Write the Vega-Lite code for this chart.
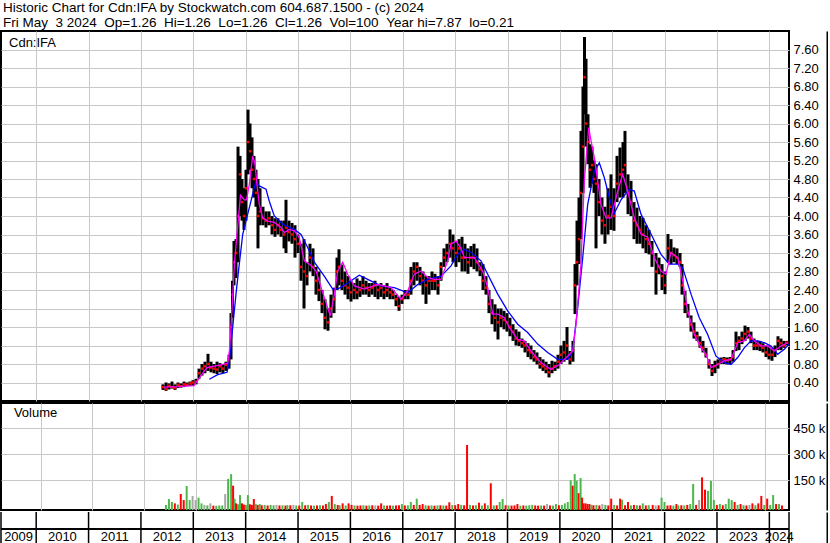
{
"$schema": "https://vega.github.io/schema/vega-lite/v6.json",
"padding": 0,
"background": "#ffffff",
"title": {"text": ["Historic Chart for Cdn:IFA by Stockwatch.com 604.687.1500 - (c) 2024", "Fri May \u00a03 2024 \u00a0Op=1.26 \u00a0Hi=1.26 \u00a0Lo=1.26 \u00a0Cl=1.26 \u00a0Vol=100 \u00a0Year hi=7.87 \u00a0lo=0.21"], "anchor": "start", "fontSize": 13.5, "font": "Arial", "fontWeight": "normal", "color": "#000000", "lineHeight": 15, "offset": 1, "dx": 3},
"spacing": 0,
"resolve": {"scale": {"color": "independent"}},
"config": {"view": {"stroke": "#000000", "strokeWidth": 2}, "font": "Arial", "axis": {"labelFont": "Arial", "labelFontSize": 13, "labelColor": "#000000", "gridColor": "#c8c8c8", "gridWidth": 1, "gridOpacity": 1, "labelOverlap": false}},
"datasets": {
"p": [
{"t":2012.421,"h":0.36,"l":0.24,"c":0.30,"v":8,"d":"g"},
{"t":2012.479,"h":0.40,"l":0.22,"c":0.26,"v":42,"d":"g"},
{"t":2012.536,"h":0.38,"l":0.25,"c":0.33,"v":25,"d":"g"},
{"t":2012.593,"h":0.42,"l":0.27,"c":0.30,"v":17,"d":"r"},
{"t":2012.651,"h":0.36,"l":0.24,"c":0.28,"v":10,"d":"g"},
{"t":2012.708,"h":0.40,"l":0.28,"c":0.35,"v":71,"d":"r"},
{"t":2012.765,"h":0.38,"l":0.29,"c":0.32,"v":36,"d":"r"},
{"t":2012.822,"h":0.42,"l":0.30,"c":0.36,"v":117,"d":"g"},
{"t":2012.880,"h":0.40,"l":0.32,"c":0.35,"v":36,"d":"g"},
{"t":2012.937,"h":0.42,"l":0.33,"c":0.38,"v":60,"d":"n"},
{"t":2012.994,"h":0.45,"l":0.33,"c":0.40,"v":36,"d":"n"},
{"t":2013.052,"h":0.48,"l":0.36,"c":0.42,"v":50,"d":"g"},
{"t":2013.109,"h":0.70,"l":0.48,"c":0.60,"v":17,"d":"g"},
{"t":2013.166,"h":0.80,"l":0.55,"c":0.70,"v":8,"d":"n"},
{"t":2013.223,"h":0.85,"l":0.60,"c":0.75,"v":5,"d":"g"},
{"t":2013.281,"h":1.02,"l":0.65,"c":0.80,"v":17,"d":"n"},
{"t":2013.338,"h":0.85,"l":0.62,"c":0.72,"v":4,"d":"r"},
{"t":2013.395,"h":0.80,"l":0.60,"c":0.70,"v":3,"d":"g"},
{"t":2013.453,"h":0.85,"l":0.58,"c":0.68,"v":5,"d":"g"},
{"t":2013.510,"h":0.82,"l":0.62,"c":0.75,"v":5,"d":"g"},
{"t":2013.567,"h":0.80,"l":0.60,"c":0.70,"v":71,"d":"n"},
{"t":2013.624,"h":0.85,"l":0.65,"c":0.78,"v":158,"d":"g"},
{"t":2013.682,"h":1.00,"l":0.70,"c":0.90,"v":186,"d":"g"},
{"t":2013.720,"h":1.90,"l":0.90,"c":1.60,"v":119,"d":"r"},
{"t":2013.749,"h":2.60,"l":1.80,"c":2.30,"v":44,"d":"g"},
{"t":2013.777,"h":3.46,"l":2.50,"c":3.00,"v":17,"d":"r"},
{"t":2013.815,"h":3.50,"l":2.66,"c":3.20,"v":12,"d":"g"},
{"t":2013.854,"h":5.50,"l":3.00,"c":4.00,"v":65,"d":"g"},
{"t":2013.892,"h":5.30,"l":4.00,"c":4.90,"v":17,"d":"r"},
{"t":2013.930,"h":4.80,"l":3.90,"c":4.30,"v":10,"d":"r"},
{"t":2013.968,"h":4.60,"l":3.70,"c":4.00,"v":8,"d":"g"},
{"t":2014.006,"h":5.00,"l":3.90,"c":4.60,"v":65,"d":"g"},
{"t":2014.045,"h":6.30,"l":4.90,"c":5.60,"v":12,"d":"r"},
{"t":2014.083,"h":6.00,"l":5.00,"c":5.40,"v":8,"d":"r"},
{"t":2014.121,"h":5.70,"l":4.60,"c":5.00,"v":42,"d":"r"},
{"t":2014.159,"h":5.30,"l":4.40,"c":4.80,"v":13,"d":"g"},
{"t":2014.197,"h":5.00,"l":4.20,"c":4.50,"v":8,"d":"r"},
{"t":2014.235,"h":4.80,"l":3.30,"c":4.00,"v":13,"d":"g"},
{"t":2014.274,"h":4.60,"l":3.80,"c":4.10,"v":6,"d":"r"},
{"t":2014.331,"h":4.20,"l":3.80,"c":3.95,"v":8,"d":"g"},
{"t":2014.388,"h":4.10,"l":3.75,"c":3.90,"v":5,"d":"r"},
{"t":2014.446,"h":4.10,"l":3.80,"c":3.95,"v":8,"d":"g"},
{"t":2014.503,"h":4.00,"l":3.60,"c":3.80,"v":6,"d":"g"},
{"t":2014.560,"h":3.95,"l":3.55,"c":3.70,"v":8,"d":"n"},
{"t":2014.617,"h":3.95,"l":3.60,"c":3.80,"v":5,"d":"r"},
{"t":2014.675,"h":3.90,"l":3.55,"c":3.70,"v":6,"d":"g"},
{"t":2014.732,"h":3.90,"l":3.30,"c":3.60,"v":4,"d":"r"},
{"t":2014.770,"h":4.35,"l":3.20,"c":3.75,"v":7,"d":"g"},
{"t":2014.827,"h":3.90,"l":3.45,"c":3.65,"v":6,"d":"r"},
{"t":2014.885,"h":3.85,"l":3.40,"c":3.60,"v":8,"d":"n"},
{"t":2014.942,"h":3.80,"l":3.10,"c":3.50,"v":5,"d":"g"},
{"t":2014.999,"h":3.60,"l":3.20,"c":3.40,"v":4,"d":"r"},
{"t":2015.057,"h":3.40,"l":2.60,"c":2.90,"v":25,"d":"g"},
{"t":2015.114,"h":3.50,"l":2.00,"c":2.80,"v":6,"d":"r"},
{"t":2015.171,"h":3.00,"l":2.50,"c":2.70,"v":8,"d":"g"},
{"t":2015.228,"h":3.40,"l":2.80,"c":3.10,"v":5,"d":"r"},
{"t":2015.286,"h":3.30,"l":2.70,"c":2.90,"v":4,"d":"g"},
{"t":2015.343,"h":2.90,"l":2.30,"c":2.60,"v":5,"d":"r"},
{"t":2015.400,"h":2.80,"l":2.16,"c":2.40,"v":6,"d":"g"},
{"t":2015.458,"h":2.40,"l":1.90,"c":2.10,"v":5,"d":"r"},
{"t":2015.515,"h":2.20,"l":1.55,"c":1.80,"v":13,"d":"r"},
{"t":2015.572,"h":2.00,"l":1.52,"c":1.70,"v":25,"d":"g"},
{"t":2015.629,"h":2.30,"l":1.80,"c":2.00,"v":60,"d":"r"},
{"t":2015.687,"h":2.45,"l":1.90,"c":2.20,"v":13,"d":"g"},
{"t":2015.744,"h":3.10,"l":2.40,"c":2.80,"v":8,"d":"r"},
{"t":2015.782,"h":3.28,"l":2.50,"c":2.90,"v":6,"d":"g"},
{"t":2015.839,"h":2.95,"l":2.40,"c":2.60,"v":17,"d":"r"},
{"t":2015.897,"h":2.80,"l":2.30,"c":2.50,"v":5,"d":"g"},
{"t":2015.954,"h":2.70,"l":2.20,"c":2.45,"v":17,"d":"r"},
{"t":2016.011,"h":2.60,"l":2.15,"c":2.35,"v":8,"d":"r"},
{"t":2016.069,"h":2.55,"l":2.20,"c":2.40,"v":5,"d":"g"},
{"t":2016.126,"h":2.65,"l":2.20,"c":2.35,"v":4,"d":"r"},
{"t":2016.183,"h":2.60,"l":2.25,"c":2.40,"v":5,"d":"r"},
{"t":2016.240,"h":2.70,"l":2.30,"c":2.50,"v":6,"d":"g"},
{"t":2016.298,"h":2.60,"l":2.30,"c":2.45,"v":4,"d":"r"},
{"t":2016.355,"h":2.55,"l":2.25,"c":2.40,"v":5,"d":"g"},
{"t":2016.412,"h":2.55,"l":2.30,"c":2.45,"v":6,"d":"r"},
{"t":2016.470,"h":2.60,"l":2.25,"c":2.50,"v":5,"d":"n"},
{"t":2016.527,"h":2.50,"l":2.20,"c":2.40,"v":4,"d":"r"},
{"t":2016.584,"h":2.55,"l":2.25,"c":2.45,"v":17,"d":"r"},
{"t":2016.641,"h":2.50,"l":2.20,"c":2.35,"v":5,"d":"g"},
{"t":2016.699,"h":2.55,"l":2.25,"c":2.40,"v":4,"d":"r"},
{"t":2016.756,"h":2.45,"l":2.20,"c":2.35,"v":5,"d":"r"},
{"t":2016.813,"h":2.40,"l":2.20,"c":2.30,"v":4,"d":"g"},
{"t":2016.871,"h":2.30,"l":2.05,"c":2.20,"v":5,"d":"r"},
{"t":2016.928,"h":2.25,"l":1.95,"c":2.05,"v":6,"d":"r"},
{"t":2016.985,"h":2.30,"l":2.10,"c":2.20,"v":13,"d":"g"},
{"t":2017.042,"h":2.40,"l":2.20,"c":2.30,"v":5,"d":"r"},
{"t":2017.100,"h":2.40,"l":2.20,"c":2.30,"v":6,"d":"g"},
{"t":2017.157,"h":2.90,"l":2.30,"c":2.60,"v":25,"d":"g"},
{"t":2017.214,"h":3.00,"l":2.50,"c":2.80,"v":8,"d":"r"},
{"t":2017.272,"h":3.00,"l":2.60,"c":2.90,"v":44,"d":"g"},
{"t":2017.329,"h":2.90,"l":2.50,"c":2.70,"v":8,"d":"r"},
{"t":2017.386,"h":2.80,"l":2.30,"c":2.60,"v":13,"d":"r"},
{"t":2017.443,"h":2.70,"l":2.10,"c":2.50,"v":6,"d":"g"},
{"t":2017.501,"h":2.70,"l":2.30,"c":2.60,"v":4,"d":"r"},
{"t":2017.558,"h":2.80,"l":2.40,"c":2.60,"v":5,"d":"g"},
{"t":2017.615,"h":2.75,"l":2.40,"c":2.60,"v":4,"d":"r"},
{"t":2017.673,"h":2.70,"l":2.30,"c":2.50,"v":5,"d":"g"},
{"t":2017.730,"h":3.00,"l":2.60,"c":2.90,"v":6,"d":"r"},
{"t":2017.787,"h":3.30,"l":2.90,"c":3.10,"v":5,"d":"g"},
{"t":2017.844,"h":3.40,"l":3.00,"c":3.20,"v":4,"d":"r"},
{"t":2017.902,"h":3.71,"l":3.10,"c":3.40,"v":23,"d":"r"},
{"t":2017.959,"h":3.60,"l":3.00,"c":3.30,"v":8,"d":"g"},
{"t":2018.016,"h":3.45,"l":2.90,"c":3.20,"v":6,"d":"r"},
{"t":2018.074,"h":3.50,"l":3.00,"c":3.30,"v":13,"d":"r"},
{"t":2018.131,"h":3.55,"l":2.80,"c":3.10,"v":8,"d":"g"},
{"t":2018.188,"h":3.40,"l":2.80,"c":3.10,"v":6,"d":"r"},
{"t":2018.245,"h":3.30,"l":2.75,"c":3.00,"v":354,"d":"r"},
{"t":2018.303,"h":3.35,"l":2.90,"c":3.10,"v":8,"d":"g"},
{"t":2018.360,"h":3.40,"l":2.85,"c":3.10,"v":5,"d":"r"},
{"t":2018.417,"h":3.30,"l":2.80,"c":3.00,"v":6,"d":"g"},
{"t":2018.475,"h":3.00,"l":2.70,"c":2.85,"v":21,"d":"r"},
{"t":2018.532,"h":2.96,"l":2.40,"c":2.60,"v":5,"d":"g"},
{"t":2018.589,"h":2.70,"l":2.30,"c":2.45,"v":17,"d":"r"},
{"t":2018.646,"h":2.40,"l":1.90,"c":2.10,"v":6,"d":"g"},
{"t":2018.704,"h":2.20,"l":1.66,"c":1.90,"v":133,"d":"r"},
{"t":2018.761,"h":2.09,"l":1.50,"c":1.80,"v":5,"d":"g"},
{"t":2018.818,"h":2.00,"l":1.33,"c":1.70,"v":6,"d":"r"},
{"t":2018.876,"h":2.00,"l":1.60,"c":1.80,"v":25,"d":"g"},
{"t":2018.933,"h":1.95,"l":1.55,"c":1.75,"v":42,"d":"g"},
{"t":2018.990,"h":1.90,"l":1.50,"c":1.70,"v":6,"d":"r"},
{"t":2019.047,"h":1.80,"l":1.40,"c":1.60,"v":5,"d":"g"},
{"t":2019.105,"h":1.66,"l":1.30,"c":1.50,"v":4,"d":"r"},
{"t":2019.162,"h":1.55,"l":1.20,"c":1.35,"v":5,"d":"r"},
{"t":2019.219,"h":1.50,"l":1.19,"c":1.30,"v":13,"d":"r"},
{"t":2019.277,"h":1.35,"l":1.15,"c":1.25,"v":4,"d":"g"},
{"t":2019.334,"h":1.30,"l":1.05,"c":1.20,"v":5,"d":"r"},
{"t":2019.391,"h":1.25,"l":0.95,"c":1.10,"v":4,"d":"g"},
{"t":2019.448,"h":1.20,"l":0.90,"c":1.05,"v":6,"d":"g"},
{"t":2019.506,"h":1.10,"l":0.85,"c":0.95,"v":8,"d":"g"},
{"t":2019.563,"h":1.05,"l":0.79,"c":0.90,"v":5,"d":"r"},
{"t":2019.620,"h":0.95,"l":0.70,"c":0.80,"v":4,"d":"r"},
{"t":2019.678,"h":0.90,"l":0.65,"c":0.75,"v":5,"d":"g"},
{"t":2019.735,"h":0.85,"l":0.60,"c":0.70,"v":4,"d":"r"},
{"t":2019.792,"h":0.80,"l":0.51,"c":0.62,"v":13,"d":"n"},
{"t":2019.849,"h":0.87,"l":0.60,"c":0.70,"v":5,"d":"r"},
{"t":2019.907,"h":0.85,"l":0.65,"c":0.75,"v":4,"d":"g"},
{"t":2019.964,"h":1.00,"l":0.70,"c":0.85,"v":13,"d":"g"},
{"t":2020.021,"h":1.20,"l":0.80,"c":1.00,"v":6,"d":"r"},
{"t":2020.079,"h":1.30,"l":0.85,"c":1.05,"v":8,"d":"g"},
{"t":2020.136,"h":1.60,"l":0.90,"c":1.20,"v":17,"d":"g"},
{"t":2020.193,"h":1.08,"l":0.79,"c":0.90,"v":25,"d":"g"},
{"t":2020.250,"h":1.30,"l":0.85,"c":1.10,"v":150,"d":"g"},
{"t":2020.289,"h":2.96,"l":1.88,"c":2.50,"v":119,"d":"r"},
{"t":2020.327,"h":3.90,"l":2.50,"c":3.00,"v":186,"d":"g"},
{"t":2020.365,"h":4.40,"l":2.96,"c":3.50,"v":148,"d":"g"},
{"t":2020.403,"h":5.84,"l":3.50,"c":4.50,"v":76,"d":"r"},
{"t":2020.441,"h":6.80,"l":4.50,"c":5.50,"v":163,"d":"g"},
{"t":2020.470,"h":7.87,"l":6.20,"c":7.00,"v":50,"d":"r"},
{"t":2020.499,"h":7.40,"l":5.50,"c":6.00,"v":17,"d":"r"},
{"t":2020.537,"h":6.20,"l":5.12,"c":5.60,"v":17,"d":"r"},
{"t":2020.575,"h":5.55,"l":4.61,"c":5.00,"v":13,"d":"r"},
{"t":2020.613,"h":5.50,"l":4.70,"c":5.10,"v":13,"d":"r"},
{"t":2020.651,"h":5.20,"l":4.50,"c":4.80,"v":8,"d":"g"},
{"t":2020.690,"h":5.12,"l":3.30,"c":4.70,"v":6,"d":"r"},
{"t":2020.747,"h":4.80,"l":4.00,"c":4.30,"v":8,"d":"g"},
{"t":2020.804,"h":4.40,"l":3.60,"c":3.90,"v":5,"d":"r"},
{"t":2020.861,"h":4.20,"l":3.40,"c":3.80,"v":13,"d":"n"},
{"t":2020.919,"h":4.60,"l":3.60,"c":4.00,"v":8,"d":"g"},
{"t":2020.976,"h":4.90,"l":3.70,"c":4.20,"v":5,"d":"r"},
{"t":2021.033,"h":4.60,"l":3.68,"c":4.00,"v":44,"d":"r"},
{"t":2021.091,"h":5.30,"l":4.30,"c":4.70,"v":8,"d":"g"},
{"t":2021.148,"h":5.48,"l":4.40,"c":4.90,"v":5,"d":"r"},
{"t":2021.205,"h":5.60,"l":4.40,"c":5.00,"v":44,"d":"r"},
{"t":2021.243,"h":5.84,"l":4.50,"c":5.10,"v":38,"d":"g"},
{"t":2021.301,"h":4.90,"l":4.04,"c":4.50,"v":6,"d":"r"},
{"t":2021.358,"h":4.76,"l":4.00,"c":4.30,"v":25,"d":"r"},
{"t":2021.415,"h":4.30,"l":3.50,"c":3.90,"v":5,"d":"g"},
{"t":2021.472,"h":4.18,"l":3.40,"c":3.80,"v":8,"d":"r"},
{"t":2021.530,"h":4.00,"l":3.40,"c":3.70,"v":6,"d":"g"},
{"t":2021.587,"h":3.96,"l":3.30,"c":3.60,"v":5,"d":"r"},
{"t":2021.644,"h":3.80,"l":3.20,"c":3.50,"v":17,"d":"g"},
{"t":2021.702,"h":3.70,"l":3.17,"c":3.40,"v":5,"d":"r"},
{"t":2021.759,"h":3.46,"l":2.90,"c":3.20,"v":6,"d":"g"},
{"t":2021.835,"h":3.20,"l":2.30,"c":2.80,"v":8,"d":"r"},
{"t":2021.893,"h":3.10,"l":2.74,"c":2.90,"v":5,"d":"n"},
{"t":2021.950,"h":2.96,"l":2.40,"c":2.70,"v":6,"d":"r"},
{"t":2022.007,"h":2.80,"l":2.31,"c":2.50,"v":50,"d":"g"},
{"t":2022.064,"h":3.61,"l":3.00,"c":3.30,"v":25,"d":"g"},
{"t":2022.122,"h":3.50,"l":2.96,"c":3.20,"v":5,"d":"r"},
{"t":2022.179,"h":3.32,"l":3.00,"c":3.15,"v":6,"d":"r"},
{"t":2022.236,"h":3.30,"l":2.96,"c":3.10,"v":4,"d":"g"},
{"t":2022.294,"h":3.20,"l":2.90,"c":3.00,"v":13,"d":"r"},
{"t":2022.332,"h":2.96,"l":2.30,"c":2.50,"v":5,"d":"g"},
{"t":2022.389,"h":2.38,"l":1.90,"c":2.10,"v":6,"d":"r"},
{"t":2022.446,"h":2.10,"l":1.80,"c":1.90,"v":5,"d":"g"},
{"t":2022.504,"h":1.85,"l":1.50,"c":1.65,"v":8,"d":"r"},
{"t":2022.561,"h":1.70,"l":1.35,"c":1.50,"v":13,"d":"g"},
{"t":2022.618,"h":1.50,"l":1.30,"c":1.40,"v":129,"d":"g"},
{"t":2022.675,"h":1.40,"l":1.15,"c":1.25,"v":8,"d":"r"},
{"t":2022.733,"h":1.30,"l":1.05,"c":1.15,"v":36,"d":"n"},
{"t":2022.790,"h":1.15,"l":0.94,"c":1.00,"v":167,"d":"r"},
{"t":2022.847,"h":0.90,"l":0.70,"c":0.80,"v":96,"d":"r"},
{"t":2022.905,"h":0.80,"l":0.54,"c":0.65,"v":89,"d":"g"},
{"t":2022.962,"h":0.87,"l":0.60,"c":0.75,"v":146,"d":"g"},
{"t":2023.019,"h":0.90,"l":0.70,"c":0.80,"v":36,"d":"g"},
{"t":2023.076,"h":0.94,"l":0.80,"c":0.88,"v":8,"d":"r"},
{"t":2023.134,"h":0.95,"l":0.80,"c":0.90,"v":13,"d":"g"},
{"t":2023.191,"h":0.94,"l":0.79,"c":0.88,"v":6,"d":"r"},
{"t":2023.248,"h":0.95,"l":0.80,"c":0.90,"v":13,"d":"g"},
{"t":2023.306,"h":1.10,"l":0.85,"c":0.95,"v":44,"d":"g"},
{"t":2023.363,"h":1.50,"l":1.08,"c":1.25,"v":36,"d":"g"},
{"t":2023.420,"h":1.40,"l":1.10,"c":1.30,"v":25,"d":"r"},
{"t":2023.477,"h":1.50,"l":1.23,"c":1.35,"v":8,"d":"g"},
{"t":2023.535,"h":1.63,"l":1.30,"c":1.45,"v":13,"d":"r"},
{"t":2023.592,"h":1.60,"l":1.35,"c":1.50,"v":6,"d":"g"},
{"t":2023.649,"h":1.50,"l":1.25,"c":1.35,"v":5,"d":"r"},
{"t":2023.707,"h":1.35,"l":1.10,"c":1.20,"v":8,"d":"n"},
{"t":2023.764,"h":1.30,"l":1.10,"c":1.20,"v":17,"d":"r"},
{"t":2023.821,"h":1.30,"l":1.08,"c":1.20,"v":6,"d":"g"},
{"t":2023.878,"h":1.25,"l":1.05,"c":1.15,"v":17,"d":"r"},
{"t":2023.936,"h":1.20,"l":0.95,"c":1.05,"v":60,"d":"r"},
{"t":2023.993,"h":1.20,"l":0.90,"c":1.00,"v":8,"d":"g"},
{"t":2024.050,"h":1.15,"l":0.87,"c":1.00,"v":44,"d":"r"},
{"t":2024.108,"h":1.20,"l":0.95,"c":1.10,"v":8,"d":"g"},
{"t":2024.165,"h":1.40,"l":1.10,"c":1.30,"v":65,"d":"g"},
{"t":2024.222,"h":1.35,"l":1.10,"c":1.25,"v":13,"d":"r"},
{"t":2024.279,"h":1.30,"l":1.15,"c":1.20,"v":13,"d":"g"},
{"t":2024.337,"h":1.30,"l":1.20,"c":1.26,"v":5,"d":"r"}
],
"m": [
{"t":2013.306,"ma":0.47,"s":"b"},{"t":2013.466,"ma":0.57,"s":"b"},{"t":2013.644,"ma":0.62,"s":"b"},{"t":2013.687,"ma":0.85,"s":"b"},{"t":2013.752,"ma":1.59,"s":"b"},{"t":2013.815,"ma":2.31,"s":"b"},{"t":2013.878,"ma":2.96,"s":"b"},{"t":2013.943,"ma":3.6,"s":"b"},{"t":2014.039,"ma":4.04,"s":"b"},{"t":2014.134,"ma":4.47,"s":"b"},{"t":2014.197,"ma":4.76,"s":"b"},{"t":2014.260,"ma":4.65,"s":"b"},{"t":2014.388,"ma":4.58,"s":"b"},{"t":2014.451,"ma":4.32,"s":"b"},{"t":2014.547,"ma":4.0,"s":"b"},{"t":2014.707,"ma":3.82,"s":"b"},{"t":2014.929,"ma":3.71,"s":"b"},{"t":2015.057,"ma":3.6,"s":"b"},{"t":2015.184,"ma":3.32,"s":"b"},{"t":2015.311,"ma":3.0,"s":"b"},{"t":2015.501,"ma":2.7,"s":"b"},{"t":2015.662,"ma":2.42,"s":"b"},{"t":2015.757,"ma":2.42,"s":"b"},{"t":2015.948,"ma":2.55,"s":"b"},{"t":2016.170,"ma":2.72,"s":"b"},{"t":2016.330,"ma":2.63,"s":"b"},{"t":2016.584,"ma":2.49,"s":"b"},{"t":2016.838,"ma":2.45,"s":"b"},{"t":2017.094,"ma":2.34,"s":"b"},{"t":2017.285,"ma":2.52,"s":"b"},{"t":2017.476,"ma":2.63,"s":"b"},{"t":2017.730,"ma":2.70,"s":"b"},{"t":2017.921,"ma":2.92,"s":"b"},{"t":2018.049,"ma":3.17,"s":"b"},{"t":2018.175,"ma":3.28,"s":"b"},{"t":2018.303,"ma":3.21,"s":"b"},{"t":2018.494,"ma":3.03,"s":"b"},{"t":2018.622,"ma":2.74,"s":"b"},{"t":2018.813,"ma":2.31,"s":"b"},{"t":2019.003,"ma":1.95,"s":"b"},{"t":2019.194,"ma":1.66,"s":"b"},{"t":2019.385,"ma":1.48,"s":"b"},{"t":2019.576,"ma":1.23,"s":"b"},{"t":2019.767,"ma":1.05,"s":"b"},{"t":2019.958,"ma":0.9,"s":"b"},{"t":2020.149,"ma":0.9,"s":"b"},{"t":2020.245,"ma":1.08,"s":"b"},{"t":2020.340,"ma":2.02,"s":"b"},{"t":2020.436,"ma":3.1,"s":"b"},{"t":2020.531,"ma":4.25,"s":"b"},{"t":2020.657,"ma":4.97,"s":"b"},{"t":2020.753,"ma":5.15,"s":"b"},{"t":2020.848,"ma":4.83,"s":"b"},{"t":2020.944,"ma":4.4,"s":"b"},{"t":2021.039,"ma":4.06,"s":"b"},{"t":2021.167,"ma":4.35,"s":"b"},{"t":2021.325,"ma":4.58,"s":"b"},{"t":2021.421,"ma":4.54,"s":"b"},{"t":2021.549,"ma":4.04,"s":"b"},{"t":2021.740,"ma":3.61,"s":"b"},{"t":2021.931,"ma":3.17,"s":"b"},{"t":2022.089,"ma":2.96,"s":"b"},{"t":2022.250,"ma":2.96,"s":"b"},{"t":2022.345,"ma":2.88,"s":"b"},{"t":2022.504,"ma":2.31,"s":"b"},{"t":2022.662,"ma":1.8,"s":"b"},{"t":2022.822,"ma":1.44,"s":"b"},{"t":2022.981,"ma":0.97,"s":"b"},{"t":2023.139,"ma":0.83,"s":"b"},{"t":2023.267,"ma":0.79,"s":"b"},{"t":2023.395,"ma":0.94,"s":"b"},{"t":2023.521,"ma":1.15,"s":"b"},{"t":2023.649,"ma":1.30,"s":"b"},{"t":2023.777,"ma":1.30,"s":"b"},{"t":2023.903,"ma":1.26,"s":"b"},{"t":2024.031,"ma":1.19,"s":"b"},{"t":2024.159,"ma":1.01,"s":"b"},{"t":2024.285,"ma":1.12,"s":"b"},{"t":2024.375,"ma":1.23,"s":"b"},
{"t":2012.441,"ma":0.30,"s":"a"},{"t":2012.708,"ma":0.31,"s":"a"},{"t":2013.013,"ma":0.33,"s":"a"},{"t":2013.147,"ma":0.55,"s":"a"},{"t":2013.262,"ma":0.72,"s":"a"},{"t":2013.567,"ma":0.79,"s":"a"},{"t":2013.657,"ma":0.82,"s":"a"},{"t":2013.691,"ma":1.1,"s":"a"},{"t":2013.720,"ma":1.6,"s":"a"},{"t":2013.758,"ma":2.4,"s":"a"},{"t":2013.787,"ma":3.0,"s":"a"},{"t":2013.834,"ma":3.6,"s":"a"},{"t":2013.901,"ma":4.45,"s":"a"},{"t":2013.974,"ma":4.35,"s":"a"},{"t":2014.016,"ma":4.35,"s":"a"},{"t":2014.069,"ma":4.68,"s":"a"},{"t":2014.134,"ma":5.3,"s":"a"},{"t":2014.178,"ma":5.12,"s":"a"},{"t":2014.216,"ma":4.68,"s":"a"},{"t":2014.260,"ma":4.25,"s":"a"},{"t":2014.325,"ma":3.96,"s":"a"},{"t":2014.421,"ma":3.89,"s":"a"},{"t":2014.547,"ma":3.86,"s":"a"},{"t":2014.675,"ma":3.75,"s":"a"},{"t":2014.738,"ma":3.64,"s":"a"},{"t":2014.833,"ma":3.71,"s":"a"},{"t":2014.929,"ma":3.68,"s":"a"},{"t":2015.024,"ma":3.53,"s":"a"},{"t":2015.120,"ma":3.03,"s":"a"},{"t":2015.248,"ma":2.93,"s":"a"},{"t":2015.343,"ma":2.81,"s":"a"},{"t":2015.501,"ma":2.24,"s":"a"},{"t":2015.616,"ma":1.84,"s":"a"},{"t":2015.692,"ma":2.3,"s":"a"},{"t":2015.757,"ma":2.81,"s":"a"},{"t":2015.853,"ma":3.0,"s":"a"},{"t":2015.948,"ma":2.74,"s":"a"},{"t":2016.074,"ma":2.49,"s":"a"},{"t":2016.265,"ma":2.42,"s":"a"},{"t":2016.521,"ma":2.52,"s":"a"},{"t":2016.775,"ma":2.45,"s":"a"},{"t":2016.966,"ma":2.2,"s":"a"},{"t":2017.094,"ma":2.38,"s":"a"},{"t":2017.220,"ma":2.74,"s":"a"},{"t":2017.348,"ma":2.81,"s":"a"},{"t":2017.476,"ma":2.67,"s":"a"},{"t":2017.602,"ma":2.63,"s":"a"},{"t":2017.730,"ma":2.63,"s":"a"},{"t":2017.858,"ma":3.03,"s":"a"},{"t":2017.921,"ma":3.39,"s":"a"},{"t":2018.016,"ma":3.46,"s":"a"},{"t":2018.112,"ma":3.3,"s":"a"},{"t":2018.175,"ma":3.1,"s":"a"},{"t":2018.366,"ma":3.1,"s":"a"},{"t":2018.526,"ma":2.81,"s":"a"},{"t":2018.622,"ma":2.45,"s":"a"},{"t":2018.717,"ma":1.88,"s":"a"},{"t":2018.813,"ma":1.88,"s":"a"},{"t":2018.939,"ma":1.8,"s":"a"},{"t":2019.034,"ma":1.59,"s":"a"},{"t":2019.194,"ma":1.33,"s":"a"},{"t":2019.320,"ma":1.3,"s":"a"},{"t":2019.448,"ma":1.08,"s":"a"},{"t":2019.639,"ma":0.83,"s":"a"},{"t":2019.830,"ma":0.68,"s":"a"},{"t":2019.989,"ma":0.79,"s":"a"},{"t":2020.149,"ma":0.97,"s":"a"},{"t":2020.245,"ma":1.08,"s":"a"},{"t":2020.308,"ma":1.66,"s":"a"},{"t":2020.403,"ma":2.96,"s":"a"},{"t":2020.466,"ma":4.76,"s":"a"},{"t":2020.550,"ma":5.91,"s":"a"},{"t":2020.594,"ma":5.63,"s":"a"},{"t":2020.657,"ma":5.26,"s":"a"},{"t":2020.722,"ma":4.76,"s":"a"},{"t":2020.785,"ma":4.25,"s":"a"},{"t":2020.881,"ma":3.96,"s":"a"},{"t":2020.976,"ma":3.96,"s":"a"},{"t":2021.104,"ma":4.54,"s":"a"},{"t":2021.199,"ma":4.9,"s":"a"},{"t":2021.295,"ma":4.54,"s":"a"},{"t":2021.421,"ma":3.96,"s":"a"},{"t":2021.549,"ma":3.61,"s":"a"},{"t":2021.677,"ma":3.54,"s":"a"},{"t":2021.803,"ma":3.1,"s":"a"},{"t":2021.931,"ma":2.81,"s":"a"},{"t":2022.026,"ma":2.74,"s":"a"},{"t":2022.122,"ma":3.21,"s":"a"},{"t":2022.250,"ma":3.1,"s":"a"},{"t":2022.345,"ma":2.6,"s":"a"},{"t":2022.441,"ma":1.95,"s":"a"},{"t":2022.567,"ma":1.44,"s":"a"},{"t":2022.695,"ma":1.15,"s":"a"},{"t":2022.790,"ma":1.01,"s":"a"},{"t":2022.886,"ma":0.72,"s":"a"},{"t":2023.013,"ma":0.79,"s":"a"},{"t":2023.139,"ma":0.87,"s":"a"},{"t":2023.267,"ma":0.9,"s":"a"},{"t":2023.395,"ma":1.26,"s":"a"},{"t":2023.521,"ma":1.30,"s":"a"},{"t":2023.617,"ma":1.44,"s":"a"},{"t":2023.712,"ma":1.30,"s":"a"},{"t":2023.840,"ma":1.19,"s":"a"},{"t":2023.968,"ma":1.19,"s":"a"},{"t":2024.094,"ma":1.08,"s":"a"},{"t":2024.222,"ma":1.19,"s":"a"},{"t":2024.350,"ma":1.26,"s":"a"}
],
"yrs": [{"t":2009.328},{"t":2010},{"t":2011},{"t":2012},{"t":2013},{"t":2014},{"t":2015},{"t":2016},{"t":2017},{"t":2018},{"t":2019},{"t":2020},{"t":2021},{"t":2022},{"t":2023},{"t":2024},{"t":2024.375}],
"labs": [{"t":2009.664,"lab":"2009"},{"t":2010.5,"lab":"2010"},{"t":2011.5,"lab":"2011"},{"t":2012.5,"lab":"2012"},{"t":2013.5,"lab":"2013"},{"t":2014.5,"lab":"2014"},{"t":2015.5,"lab":"2015"},{"t":2016.5,"lab":"2016"},{"t":2017.5,"lab":"2017"},{"t":2018.5,"lab":"2018"},{"t":2019.5,"lab":"2019"},{"t":2020.5,"lab":"2020"},{"t":2021.5,"lab":"2021"},{"t":2022.5,"lab":"2022"},{"t":2023.5,"lab":"2023"},{"t":2024.19,"lab":"2024"}]
},
"vconcat": [
{
"width": 788, "height": 370,
"encoding": {
  "x": {"field": "t", "type": "quantitative", "scale": {"domain": [2009.328, 2024.375], "nice": false, "zero": false}, "axis": {"values": [2010,2011,2012,2013,2014,2015,2016,2017,2018,2019,2020,2021,2022,2023,2024], "tickCount": 40, "labels": false, "ticks": false, "domain": false, "grid": true, "title": null}}
},
"layer": [
{"data": {"name": "p"}, "mark": {"type": "rule", "color": "#000000", "strokeWidth": 3},
 "encoding": {
  "y": {"field": "l", "type": "quantitative", "scale": {"domain": [0, 8], "nice": false, "zero": false}, "axis": {"orient": "right", "values": [0.4,0.8,1.2,1.6,2,2.4,2.8,3.2,3.6,4,4.4,4.8,5.2,5.6,6,6.4,6.8,7.2,7.6], "tickCount": 40, "format": ".2f", "ticks": false, "domain": true, "domainColor": "#000000", "domainWidth": 2, "offset": 38, "labelPadding": -34, "labelAlign": "left", "labelOverlap": false, "grid": true, "title": null}},
  "y2": {"field": "h"}}},
{"data": {"name": "p"}, "mark": {"type": "square", "color": "#ff0000", "size": 6, "opacity": 1},
 "encoding": {
  "y": {"field": "c", "type": "quantitative", "scale": {"domain": [0, 8], "nice": false, "zero": false}}}},
{"data": {"name": "m"}, "mark": {"type": "line", "strokeWidth": 1.3},
 "encoding": {
  "y": {"field": "ma", "type": "quantitative", "scale": {"domain": [0, 8], "nice": false, "zero": false}},
  "color": {"field": "s", "type": "nominal", "scale": {"domain": ["a", "b"], "range": ["#ff00ff", "#0000ff"]}, "legend": null}}},
{"data": {"values": [{"lab": "Cdn:IFA", "t": 2009.481, "y": 7.74}]}, "mark": {"type": "text", "align": "left", "baseline": "middle", "fontSize": 13, "font": "Arial", "color": "#000000"},
 "encoding": {
  "y": {"field": "y", "type": "quantitative", "scale": {"domain": [0, 8], "nice": false, "zero": false}},
  "text": {"field": "lab"}}}
]
},
{
"width": 788, "height": 107,
"encoding": {
  "x": {"field": "t", "type": "quantitative", "scale": {"domain": [2009.328, 2024.375], "nice": false, "zero": false}, "axis": {"values": [2010,2011,2012,2013,2014,2015,2016,2017,2018,2019,2020,2021,2022,2023,2024], "tickCount": 40, "labels": false, "ticks": false, "domain": false, "grid": true, "title": null}}
},
"layer": [
{"data": {"name": "p"}, "mark": {"type": "bar", "size": 2},
 "encoding": {
  "y": {"field": "v", "type": "quantitative", "scale": {"domain": [-21.3, 596], "nice": false, "zero": false}, "axis": {"orient": "right", "values": [150, 300, 450], "tickCount": 10, "labelExpr": "datum.value + ' k'", "ticks": false, "domain": true, "domainColor": "#000000", "domainWidth": 2, "offset": 38, "labelPadding": -34, "labelAlign": "left", "labelOverlap": false, "grid": true, "title": null}},
  "y2": {"datum": -21.3},
  "color": {"field": "d", "type": "nominal", "scale": {"domain": ["g", "r", "n"], "range": ["#4cb84c", "#ff0000", "#a8a8a8"]}, "legend": null}}},
{"data": {"values": [{"lab": "Volume", "t": 2009.481, "y": 538}]}, "mark": {"type": "text", "align": "left", "baseline": "middle", "fontSize": 13, "font": "Arial", "color": "#000000"},
 "encoding": {
  "y": {"field": "y", "type": "quantitative", "scale": {"domain": [-21.3, 596], "nice": false, "zero": false}},
  "text": {"field": "lab"}}}
]
},
{
"width": 788, "height": 32,
"view": {"stroke": null},
"layer": [
{"data": {"name": "yrs"}, "mark": {"type": "rule", "color": "#000000", "strokeWidth": 1.5},
 "encoding": {
  "x": {"field": "t", "type": "quantitative", "scale": {"domain": [2009.328, 2024.375], "nice": false, "zero": false}, "axis": null}}},
{"data": {"values": [{"y": 0.9375}, {"y": 0}]}, "mark": {"type": "rule", "color": "#000000", "strokeWidth": 2},
 "encoding": {
  "y": {"field": "y", "type": "quantitative", "scale": {"domain": [0, 2], "nice": false, "zero": false}, "axis": {"orient": "right", "labels": false, "ticks": false, "grid": false, "domain": true, "domainColor": "#000000", "domainWidth": 2, "offset": 38, "title": null}}}},
{"data": {"name": "labs"}, "mark": {"type": "text", "align": "center", "baseline": "middle", "fontSize": 13, "font": "Arial", "color": "#000000"},
 "encoding": {
  "x": {"field": "t", "type": "quantitative", "scale": {"domain": [2009.328, 2024.375], "nice": false, "zero": false}, "axis": null},
  "y": {"datum": 0.4375, "type": "quantitative", "scale": {"domain": [0, 2], "nice": false, "zero": false}},
  "text": {"field": "lab"}}}
]
}
]
}
